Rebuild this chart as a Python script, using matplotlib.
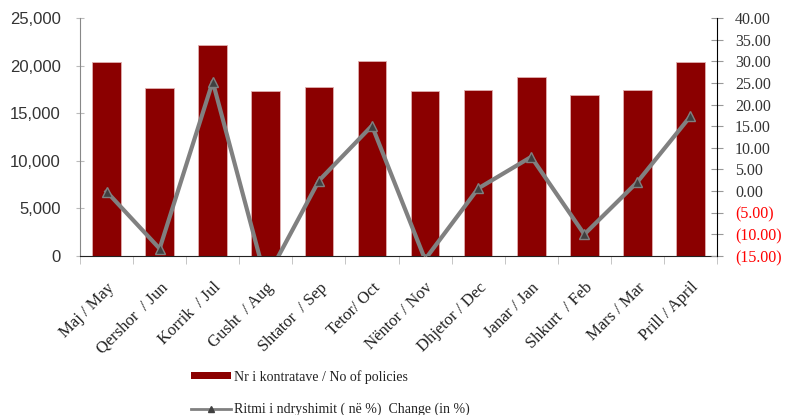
import numpy as np
import matplotlib
matplotlib.use("Agg")
import matplotlib.pyplot as plt
from matplotlib.lines import Line2D
from matplotlib.patches import Patch

# -------------------------
# Datos
# -------------------------
meses = ["Maj / May", "Qershor  / Jun", "Korrik  / Jul", "Gusht  / Aug",
         "Shtator  / Sep", "Tetor/ Oct", "Nëntor / Nov", "Dhjetor / Dec",
         "Janar / Jan", "Shkurt  / Feb", "Mars / Mar", "Prill / April"]
kontrata = [20350, 17600, 22130, 17330, 17750, 20480,
            17300, 17400, 18800, 16950, 17400, 20380]
ndryshimi = [-0.1, -13.3, 25.3, -20.5, 2.4, 15.1,
             -15.8, 0.6, 7.9, -10.0, 2.1, 17.3]

left_ticks = [0, 5000, 10000, 15000, 20000, 25000]
right_ticks = list(range(-15, 41, 5))

serif = "Liberation Serif"
sans = "Liberation Sans"

# -------------------------
# Figura
# -------------------------
fig = plt.figure(figsize=(7.86, 4.15), dpi=100)
ax = fig.add_axes([80 / 786, 1 - 256 / 415, 637 / 786, 238 / 415])

x = np.arange(len(meses))
ax.bar(x, kontrata, width=0.54, color="#8b0000", edgecolor="#e0b0b0",
       linewidth=0.6, zorder=2)
ax.set_xlim(-0.5, len(meses) - 0.5)
ax.set_ylim(0, 25000)
ax.set_yticks(left_ticks)
ax.set_yticklabels([f"{v:,}" for v in left_ticks], fontfamily=sans,
                   fontsize=12, color="#333333")
ax.tick_params(axis="y", direction="inout", length=6, color="#bbbbbb", pad=11)

ax.set_xticks(x)
ax.set_xticklabels(meses, rotation=45, ha="right", rotation_mode="anchor",
                   fontfamily=serif, fontsize=12, color="#222222")
ax.tick_params(axis="x", which="major", length=0, pad=17)
ax.set_xticks(np.arange(-0.5, len(meses)), minor=True)
ax.tick_params(axis="x", which="minor", direction="out", length=6,
               color="#bbbbbb")

ax.spines["top"].set_visible(False)
ax.spines["right"].set_visible(False)
ax.spines["left"].set_color("#888888")
ax.spines["bottom"].set_color("#222222")

# eje derecho
ax2 = ax.twinx()
ax2.plot(x, ndryshimi, color="#808080", linewidth=3, marker="^",
         markersize=7, markerfacecolor="#404040", markeredgecolor="#808080",
         markeredgewidth=1, zorder=3)
ax2.set_ylim(-15, 40)
ax2.set_yticks(right_ticks)
etiquetas = []
for v in right_ticks:
    etiquetas.append(f"({abs(v):.2f})" if v < 0 else f"{v:.2f}")
ax2.set_yticklabels(etiquetas, fontfamily=serif, fontsize=11.5)
for lab, v in zip(ax2.get_yticklabels(), right_ticks):
    lab.set_color("#ff0000" if v < 0 else "#333333")
ax2.tick_params(axis="y", direction="inout", length=8, color="#999999", pad=9)
ax2.spines["top"].set_visible(False)
ax2.spines["left"].set_visible(False)
ax2.spines["bottom"].set_visible(False)
ax2.spines["right"].set_color("#000000")

# -------------------------
# Leyenda
# -------------------------
handles = [
    Patch(facecolor="#8b0000", edgecolor="none"),
    Line2D([0], [0], color="#808080", linewidth=2, marker="^", markersize=5,
           markerfacecolor="#404040", markeredgecolor="#404040"),
]
labels = ["Nr i kontratave / No of policies",
          "Ritmi i ndryshimit ( në %)  Change (in %)"]
leg = fig.legend(handles, labels, loc="upper left",
                 bbox_to_anchor=(191 / 786, 1 - 370 / 415), frameon=False,
                 prop={"family": serif, "size": 10}, labelspacing=1.35,
                 handlelength=2.9, handleheight=0.4, handletextpad=0.2,
                 borderpad=0, borderaxespad=0)
for t in leg.get_texts():
    t.set_color("#222222")

fig.savefig("out.png", dpi=100)
